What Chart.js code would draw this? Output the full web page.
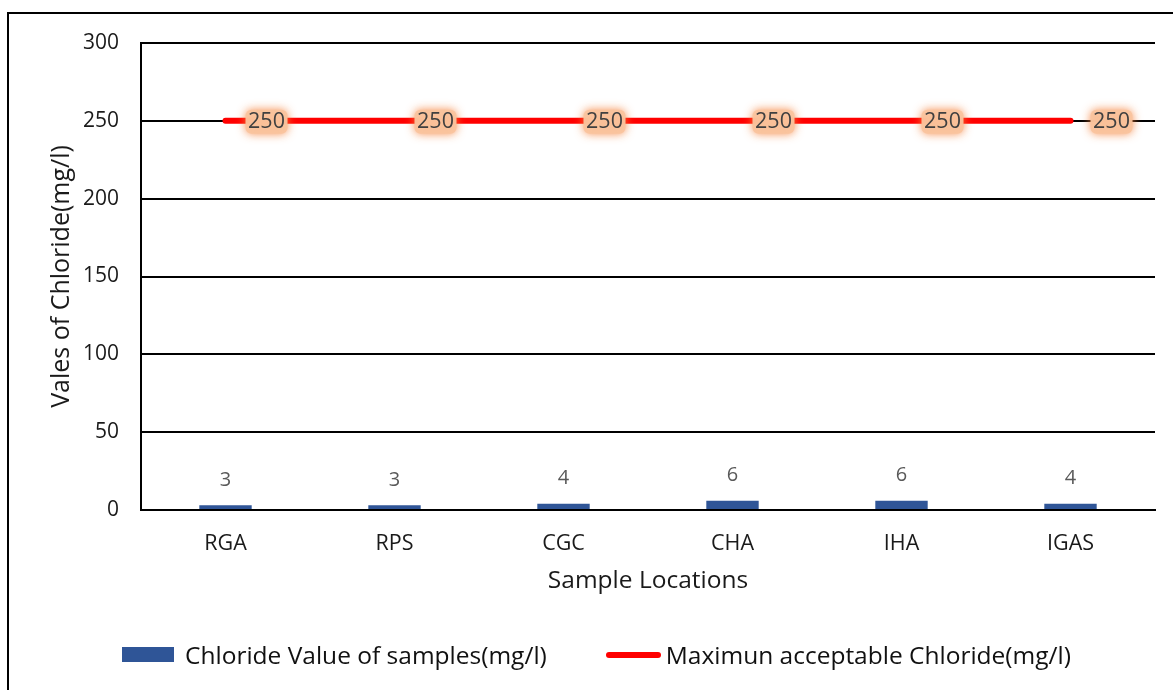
<!DOCTYPE html>
<html>
<head>
<meta charset="utf-8">
<script src="https://cdn.jsdelivr.net/npm/chart.js@4.4.0/dist/chart.umd.min.js"></script>
<style>
  html, body { margin: 0; padding: 0; background: #fff; }
  #wrap { position: relative; width: 1173px; height: 690px; overflow: hidden; font-family: "Open Sans", sans-serif; }
  #frame { position: absolute; left: 7px; top: 12px; width: 1200px; height: 720px; border: 2px solid #000; box-sizing: border-box; }
  #chloride { position: absolute; left: 0; top: 0; }
  #legend { position: absolute; left: 20px; right: 0; top: 638px; display: flex; justify-content: center; align-items: center; gap: 59px; font-size: 24.5px; color: #111; }
  .item { display: flex; align-items: center; white-space: nowrap; }
  .box { width: 52px; height: 15px; background: #2F5597; margin-right: 11px; }
  .line { width: 55px; height: 6px; border-radius: 3px; background: #FF0000; margin-right: 5px; }
</style>
</head>
<body>
<div id="wrap">
  <div id="frame"></div>
  <canvas id="chloride" width="1173" height="690"></canvas>
  <div id="legend"></div>
</div>
<script>
'use strict';

// data
const locations = ['RGA', 'RPS', 'CGC', 'CHA', 'IHA', 'IGAS'];
const chlorideValues = [3, 3, 4, 6, 6, 4];
const maxAcceptable = [250, 250, 250, 250, 250, 250];
const seriesNames = ['Chloride Value of samples(mg/l)', 'Maximun acceptable Chloride(mg/l)'];

const chartColors = {
    bar: '#2F5597',
    limit: '#FF0000',
    grid: '#000000',
    text: '#1a1a1a',
    label: '#595959'
};

const fontFamily = '"Open Sans", sans-serif';

// value labels above bars, glowing labels next to the limit line
const pluginsLabeldata = {
    id: 'pluginsLabeldata',
    afterDatasetsDraw: function (chart) {
        const ctx = chart.ctx;
        ctx.save();
        ctx.textAlign = 'center';
        ctx.textBaseline = 'middle';

        // bars
        const barMeta = chart.getDatasetMeta(0);
        ctx.font = '20px ' + fontFamily;
        ctx.fillStyle = chartColors.label;
        barMeta.data.forEach(function (el, i) {
            ctx.fillText(String(chlorideValues[i]), el.x, el.y - 25);
        });

        // limit line labels
        const lineMeta = chart.getDatasetMeta(1);
        ctx.font = '21.5px ' + fontFamily;
        lineMeta.data.forEach(function (el, i) {
            const x = el.x + 41;
            const y = el.y + 1;
            ctx.save();
            ctx.shadowColor = 'rgba(245, 130, 60, 0.95)';
            ctx.shadowBlur = 10;
            ctx.fillStyle = 'rgba(250, 196, 158, 0.95)';
            ctx.beginPath();
            ctx.roundRect(x - 21, y - 12, 42, 24, 6);
            ctx.fill();
            ctx.restore();
            ctx.fillStyle = '#404040';
            ctx.fillText(String(maxAcceptable[i]), x, y);
        });
        ctx.restore();
    }
};

new Chart(document.getElementById('chloride'), {
    type: 'bar',
    data: {
        labels: locations,
        datasets: [
            {
                label: seriesNames[0],
                data: chlorideValues,
                backgroundColor: chartColors.bar,
                borderWidth: 0,
                categoryPercentage: 1,
                barPercentage: 0.31,
                order: 2
            },
            {
                type: 'line',
                label: seriesNames[1],
                data: maxAcceptable,
                borderColor: chartColors.limit,
                backgroundColor: chartColors.limit,
                borderWidth: 6,
                borderCapStyle: 'round',
                pointRadius: 0,
                order: 1
            }
        ]
    },
    options: {
        responsive: false,
        animation: false,
        layout: { padding: { left: 0, top: 43, right: 18, bottom: 57 } },
        scales: {
            x: {
                grid: { display: false, drawTicks: false },
                border: { display: true, color: chartColors.grid, width: 2 },
                ticks: { color: chartColors.text, padding: 21, font: { family: fontFamily, size: 21.5 } },
                title: {
                    display: true,
                    text: 'Sample Locations',
                    color: chartColors.text,
                    font: { family: fontFamily, size: 24.5 },
                    padding: { top: 0, bottom: 37 }
                },
                afterFit: function (scale) { scale.height = 123; }
            },
            y: {
                min: 0,
                max: 300,
                grid: { color: chartColors.grid, lineWidth: 2, drawTicks: false },
                border: { display: true, color: chartColors.grid, width: 2 },
                ticks: { stepSize: 50, color: chartColors.text, padding: 22, font: { family: fontFamily, size: 21 } },
                title: {
                    display: true,
                    text: 'Vales of Chloride(mg/l)',
                    color: chartColors.text,
                    font: { family: fontFamily, size: 25 },
                    padding: { top: 47, bottom: 0 }
                },
                afterFit: function (scale) { scale.width = 141; }
            }
        },
        plugins: {
            legend: { display: false },
            tooltip: { enabled: false }
        }
    },
    plugins: [pluginsLabeldata]
});

// legend as html, built from the series names
const legendEl = document.getElementById('legend');
seriesNames.forEach(function (name, i) {
    const item = document.createElement('div');
    item.className = 'item';
    const mark = document.createElement('span');
    mark.className = i === 0 ? 'box' : 'line';
    const txt = document.createElement('span');
    txt.textContent = name;
    item.appendChild(mark);
    item.appendChild(txt);
    legendEl.appendChild(item);
});
</script>
</body>
</html>
